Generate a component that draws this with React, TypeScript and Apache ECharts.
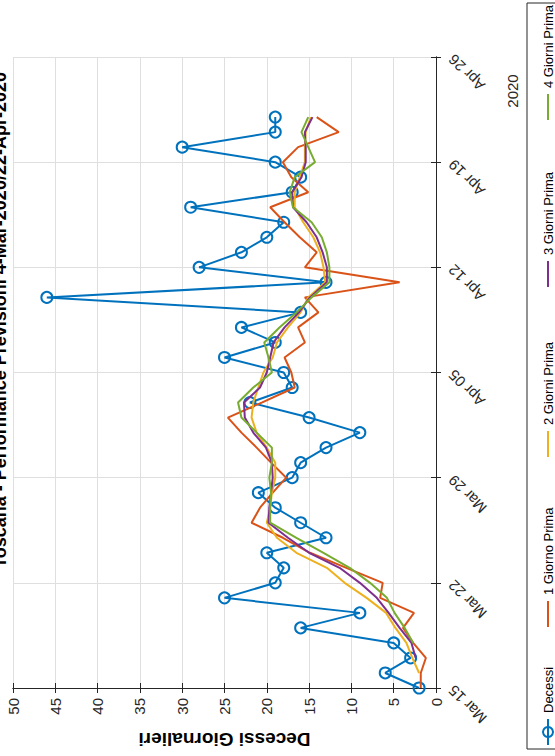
import React, { useEffect, useRef } from "react";
import * as echarts from "echarts";

const START = "2020-03-15";
const dates = [
  "2020-03-15","2020-03-16","2020-03-17","2020-03-18","2020-03-19","2020-03-20","2020-03-21",
  "2020-03-22","2020-03-23","2020-03-24","2020-03-25","2020-03-26","2020-03-27","2020-03-28",
  "2020-03-29","2020-03-30","2020-03-31","2020-04-01","2020-04-02","2020-04-03","2020-04-04",
  "2020-04-05","2020-04-06","2020-04-07","2020-04-08","2020-04-09","2020-04-10","2020-04-11",
  "2020-04-12","2020-04-13","2020-04-14","2020-04-15","2020-04-16","2020-04-17","2020-04-18",
  "2020-04-19","2020-04-20","2020-04-21","2020-04-22",
];
const decessi = [2,6,3,5,16,9,25,19,18,20,13,16,19,21,17,16,13,9,15,22,17,18,25,19,23,16,46,13,28,23,20,18,29,17,16,19,30,19,19];
const prev1 = [1.8,1.8,1.2,2.7,3.9,2.6,6.6,6.3,10.6,14.9,18.1,21.8,20.8,19.3,17.7,19.5,21.2,23.0,24.6,20.6,16.7,17.1,17.9,15.5,16.3,13.9,15.5,4.3,15.5,14.1,16.1,17.9,19.6,15.1,17.1,18.1,16.3,11.5,14.1];
const prev2 = [null,2.0,2.8,3.5,4.8,5.9,8.2,10.8,12.9,16.5,18.8,20.0,19.6,19.4,19.0,19.0,20.0,21.2,21.8,21.6,21.0,20.4,19.3,18.8,17.5,16.0,15.1,13.1,13.3,13.7,14.5,15.7,16.7,16.7,16.1,15.5,15.5,15.4,14.8];
const prev3 = [null,null,2.4,2.9,4.3,5.6,7.0,9.0,11.4,15.0,17.5,19.8,19.7,19.5,19.3,19.4,20.1,21.6,22.6,22.7,20.8,20.0,19.6,19.2,17.9,16.2,14.9,12.9,12.9,13.4,14.1,15.3,16.9,17.0,15.9,15.4,15.4,15.5,14.6];
const prev4 = [null,null,null,2.7,3.7,4.9,5.8,7.8,10.2,13.3,16.5,19.6,19.6,19.5,19.7,19.4,19.4,21.2,23.0,23.4,21.6,19.4,19.8,20.3,18.5,16.5,14.7,12.6,12.6,12.9,13.5,14.7,16.9,17.3,16.7,14.3,15.1,15.9,15.1];
const seriesNames = ["Decessi", "1 Giorno Prima", "2 Giorni Prima", "3 Giorni Prima", "4 Giorni Prima"];
const titleText = "Toscana - Performance Previsioni 4-Mar-2020/22-Apr-2020";
const yearText = "2020";
const axisName = "Decessi Giornalieri";
const axisEndDate = "2020-04-26";
const MONTHS = ["Jan","Feb","Mar","Apr","May","Jun","Jul","Aug","Sep","Oct","Nov","Dec"];

const FONT = "'Liberation Sans', Arial, Helvetica, sans-serif";
const COLORS = ["#0072BD", "#D95319", "#EDB120", "#7E2F8E", "#77AC30"];
const AXC = "#262626";
const DAY = 86400000;

const dayIndex = (d: string) => Math.round((Date.parse(d) - Date.parse(START)) / DAY);
const labelOf = (idx: number) => {
  const t = new Date(Date.parse(START) + idx * DAY);
  const dd = t.getUTCDate();
  return MONTHS[t.getUTCMonth()] + " " + (dd < 10 ? "0" + dd : String(dd));
};
const toPairs = (vals: (number | null)[]) =>
  vals
    .map((v, i) => (v === null ? null : [v, dayIndex(dates[i])]))
    .filter((p) => p !== null);

export default function App() {
  const ref = useRef<HTMLDivElement>(null);
  useEffect(() => {
    if (!ref.current) return;
    const chart = echarts.init(ref.current, null, { renderer: "svg" });
    const maxDay = dayIndex(axisEndDate);
    const all = [decessi, prev1, prev2, prev3, prev4];

    const series: any[] = all.map((vals, k) => ({
      name: seriesNames[k],
      type: "line",
      xAxisIndex: 0,
      yAxisIndex: 0,
      data: toPairs(vals as any),
      symbol: k === 0 ? "circle" : "none",
      symbolSize: 11,
      showSymbol: k === 0,
      lineStyle: { color: COLORS[k], width: 2 },
      itemStyle: k === 0
        ? { color: "rgba(0,0,0,0)", borderColor: COLORS[k], borderWidth: 2 }
        : { color: COLORS[k] },
      z: 2 + k,
    }));

    // Legend drawn in local (unrotated) coordinates, then rotated 90° CCW
    const L = 26, GAP = 6, MID = 21;
    const starts = [4, 122, 292, 462, 629];
    const children: any[] = [
      { type: "rect", shape: { x: 0, y: 0, width: 746, height: 46 }, style: { fill: "#fff", stroke: AXC, lineWidth: 1 } },
    ];
    seriesNames.forEach((n, k) => {
      const a = starts[k];
      children.push({ type: "line", shape: { x1: a, y1: MID, x2: a + L, y2: MID }, style: { stroke: COLORS[k], lineWidth: 2 } });
      if (k === 0) children.push({ type: "circle", shape: { cx: a + L / 2, cy: MID, r: 5 }, style: { fill: "none", stroke: COLORS[k], lineWidth: 2 } });
      children.push({
        type: "text", x: a + L + GAP, y: MID,
        style: { text: n, font: "13px " + FONT, fill: "#000", textAlign: "left", textVerticalAlign: "middle", align: "left", verticalAlign: "middle" },
      });
    });

    const option: any = {
      animation: false,
      backgroundColor: "#fff",
      grid: { left: 13, right: 119, top: 57, bottom: 68, show: false },
      xAxis: [
        {
          type: "value", min: 0, max: 50, interval: 5, inverse: true, position: "bottom",
          axisLine: { show: true, lineStyle: { color: AXC, width: 1 } },
          axisTick: { show: true, inside: true, length: 5, lineStyle: { color: AXC } },
          axisLabel: { rotate: 90, fontSize: 15, color: AXC, fontFamily: FONT, margin: 10 },
          splitLine: { show: true, lineStyle: { color: "#dfdfdf", width: 1 } },
          name: axisName, nameLocation: "middle", nameRotate: 180, nameGap: 42,
          nameTextStyle: { fontSize: 19, fontWeight: "bold", color: "#000", fontFamily: FONT },
        },
        {
          type: "value", min: 0, max: 50, interval: 5, inverse: true, position: "top",
          axisLine: { show: true, lineStyle: { color: AXC, width: 1 } },
          axisTick: { show: true, inside: true, length: 5, lineStyle: { color: AXC } },
          axisLabel: { show: false }, splitLine: { show: false },
        },
      ],
      yAxis: [
        {
          type: "value", min: 0, max: maxDay, interval: 7, position: "right",
          axisLine: { show: true, lineStyle: { color: AXC, width: 1 } },
          axisTick: { show: true, inside: true, length: 5, lineStyle: { color: AXC } },
          axisLabel: {
            rotate: 135, fontSize: 15, color: AXC, fontFamily: FONT, margin: 15,
            align: "right", verticalAlign: "middle",
            formatter: (v: number) => labelOf(v),
          },
          splitLine: { show: true, lineStyle: { color: "#dfdfdf", width: 1 } },
        },
        {
          type: "value", min: 0, max: maxDay, interval: 7, position: "left",
          axisLine: { show: true, lineStyle: { color: AXC, width: 1 } },
          axisTick: { show: true, inside: true, length: 5, lineStyle: { color: AXC } },
          axisLabel: { show: false }, splitLine: { show: false },
        },
      ],
      series,
      graphic: [
        {
          type: "text", x: 9, y: 320, rotation: Math.PI / 2,
          style: { text: titleText, font: "bold 18px " + FONT, fill: "#000", textAlign: "center", textVerticalAlign: "bottom", align: "center", verticalAlign: "bottom" },
        },
        {
          type: "text", x: 512, y: 91, rotation: Math.PI / 2,
          style: { text: yearText, font: "15px " + FONT, fill: AXC, textAlign: "center", textVerticalAlign: "middle", align: "center", verticalAlign: "middle" },
        },
        { type: "group", x: 527, y: 749, rotation: Math.PI / 2, children },
      ],
    };
    chart.setOption(option);
    return () => chart.dispose();
  }, []);
  return <div ref={ref} style={{ position: "fixed", left: 0, top: 0, width: 555, height: 756 }} />;
}
